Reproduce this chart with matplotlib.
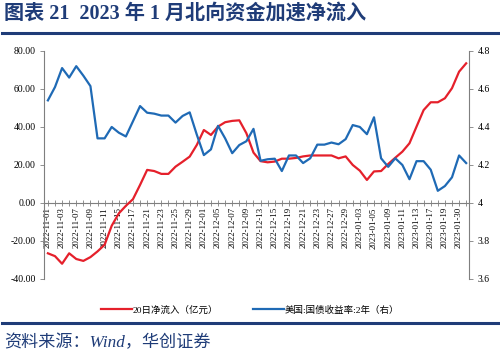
#!/usr/bin/env python3
"""Northbound 20-day net inflow vs US 2y treasury yield, Nov 2022 - Jan 2023."""

import matplotlib
matplotlib.use("Agg")
import matplotlib.pyplot as plt
from matplotlib.lines import Line2D

plt.rcParams["font.family"] = ["Liberation Serif", "Noto Sans CJK SC"]

dates = [
    "2022-11-01", "2022-11-02", "2022-11-03", "2022-11-04", "2022-11-07", "2022-11-08",
    "2022-11-09", "2022-11-10", "2022-11-11", "2022-11-14", "2022-11-15", "2022-11-16",
    "2022-11-17", "2022-11-18", "2022-11-21", "2022-11-22", "2022-11-23", "2022-11-24",
    "2022-11-25", "2022-11-28", "2022-11-29", "2022-11-30", "2022-12-01", "2022-12-02",
    "2022-12-05", "2022-12-06", "2022-12-07", "2022-12-08", "2022-12-09", "2022-12-12",
    "2022-12-13", "2022-12-14", "2022-12-15", "2022-12-16", "2022-12-19", "2022-12-20",
    "2022-12-21", "2022-12-22", "2022-12-23", "2022-12-26", "2022-12-27", "2022-12-28",
    "2022-12-29", "2022-12-30", "2023-01-03", "2023-01-04", "2023-01-05", "2023-01-06",
    "2023-01-09", "2023-01-10", "2023-01-11", "2023-01-12", "2023-01-13", "2023-01-16",
    "2023-01-17", "2023-01-18", "2023-01-19", "2023-01-20", "2023-01-30", "2023-01-31",
]

net_inflow_20d = [
    -26.5, -28.0, -32.0, -26.5, -29.5, -30.5, -28.5, -25.5, -22.0, -12.0,
    -5.5, -1.5, 2.0, 9.5, 17.4, 16.8, 15.3, 15.3, 19.1, 21.7,
    24.4, 30.5, 38.4, 35.8, 40.2, 42.5, 43.2, 43.5, 36.7, 26.5,
    22.0, 21.4, 21.8, 23.3, 23.3, 23.7, 24.5, 25.0, 25.0, 25.0,
    25.0, 23.5, 24.5, 20.0, 17.0, 12.1, 16.6, 16.8, 20.5, 23.8,
    27.0, 31.4, 40.2, 48.9, 53.0, 53.0, 55.1, 60.4, 69.1, 73.5,
]

us_2y_yield = [
    4.54, 4.61, 4.71, 4.66, 4.72, 4.67, 4.615, 4.34, 4.34, 4.40,
    4.37, 4.35, 4.43, 4.51, 4.475, 4.47, 4.46, 4.46, 4.423, 4.458,
    4.477, 4.36, 4.252, 4.282, 4.406, 4.34, 4.262, 4.305, 4.325, 4.39,
    4.222, 4.23, 4.233, 4.168, 4.25, 4.25, 4.21, 4.235, 4.307, 4.307,
    4.318, 4.309, 4.336, 4.41, 4.40, 4.362, 4.451, 4.235, 4.19, 4.235,
    4.20, 4.125, 4.22, 4.22, 4.175, 4.064, 4.089, 4.135, 4.25, 4.21,
]

left_ticks = [-40, -20, 0, 20, 40, 60, 80]
right_ticks = [3.6, 3.8, 4.0, 4.2, 4.4, 4.6, 4.8]

RED = "#e5202b"
BLUE = "#1f6ab5"
NAVY = "#1f3c78"
AXIS = "#7f7f7f"
CJK = ["Liberation Serif", "Noto Sans CJK SC"]

fig = plt.figure(figsize=(5.0, 3.54), dpi=100)
ax = fig.add_axes([0.088, 0.212, 0.85, 0.644])
ax2 = ax.twinx()

x = list(range(len(dates)))
ax.plot(x, net_inflow_20d, color=RED, lw=1.6, zorder=3)
ax2.plot(x, us_2y_yield, color=BLUE, lw=1.6, zorder=3)

ax.set_xlim(-0.55, len(dates) - 0.6)
ax.set_ylim(-40, 80)
ax2.set_ylim(3.6, 4.8)

ax.set_yticks(left_ticks)
ax.set_yticklabels([f"{v:.2f}" for v in left_ticks])
ax2.set_yticks(right_ticks)
ax2.set_yticklabels([f"{v:g}" for v in right_ticks])

ax.set_xticks(x)
ax.set_xticklabels([d if i % 2 == 0 else "" for i, d in enumerate(dates)])

for a in (ax, ax2):
    a.spines["top"].set_visible(False)
    for s in a.spines.values():
        s.set_color(AXIS)
        s.set_linewidth(0.8)
ax.spines["bottom"].set_position(("data", 0))
ax2.spines["bottom"].set_visible(False)
ax.spines["right"].set_visible(False)
ax2.spines["left"].set_visible(False)

ax.tick_params(axis="x", direction="inout", length=4, width=0.6, color=AXIS,
               pad=1, labelrotation=90, labelsize=6.3)
ax.tick_params(axis="y", direction="out", length=3, width=0.6, color=AXIS,
               labelsize=7, pad=3)
ax2.tick_params(axis="y", direction="out", length=3, width=0.6, color=AXIS,
                labelsize=7, pad=3)

handles = [
    Line2D([], [], color=RED, lw=1.6),
    Line2D([], [], color=BLUE, lw=1.6),
]
fig.legend(handles, ["20日净流入（亿元）", "美国:国债收益率:2年（右）"],
           loc="center", bbox_to_anchor=(0.5, 0.124), ncol=2, frameon=False,
           prop={"family": CJK, "size": 6.8},
           handlelength=3.3, handletextpad=0.1, columnspacing=3.6)

fig.text(0.008, 0.963, "图表 21  2023 年 1 月北向资金加速净流入", fontsize=14.5,
         fontweight="bold", color=NAVY, va="center", family=CJK)
fig.add_artist(Line2D([0.004, 0.996], [0.908, 0.908], color=NAVY, lw=2.2,
                      transform=fig.transFigure))
fig.add_artist(Line2D([0.004, 0.996], [0.088, 0.088], color=NAVY, lw=2.2,
                      transform=fig.transFigure))
fig.text(0.008, 0.031, "资料来源：Wind，华创证券", fontsize=12.3, style="italic",
         color=NAVY, va="center", family=CJK)

fig.savefig("out.png", dpi=100)
